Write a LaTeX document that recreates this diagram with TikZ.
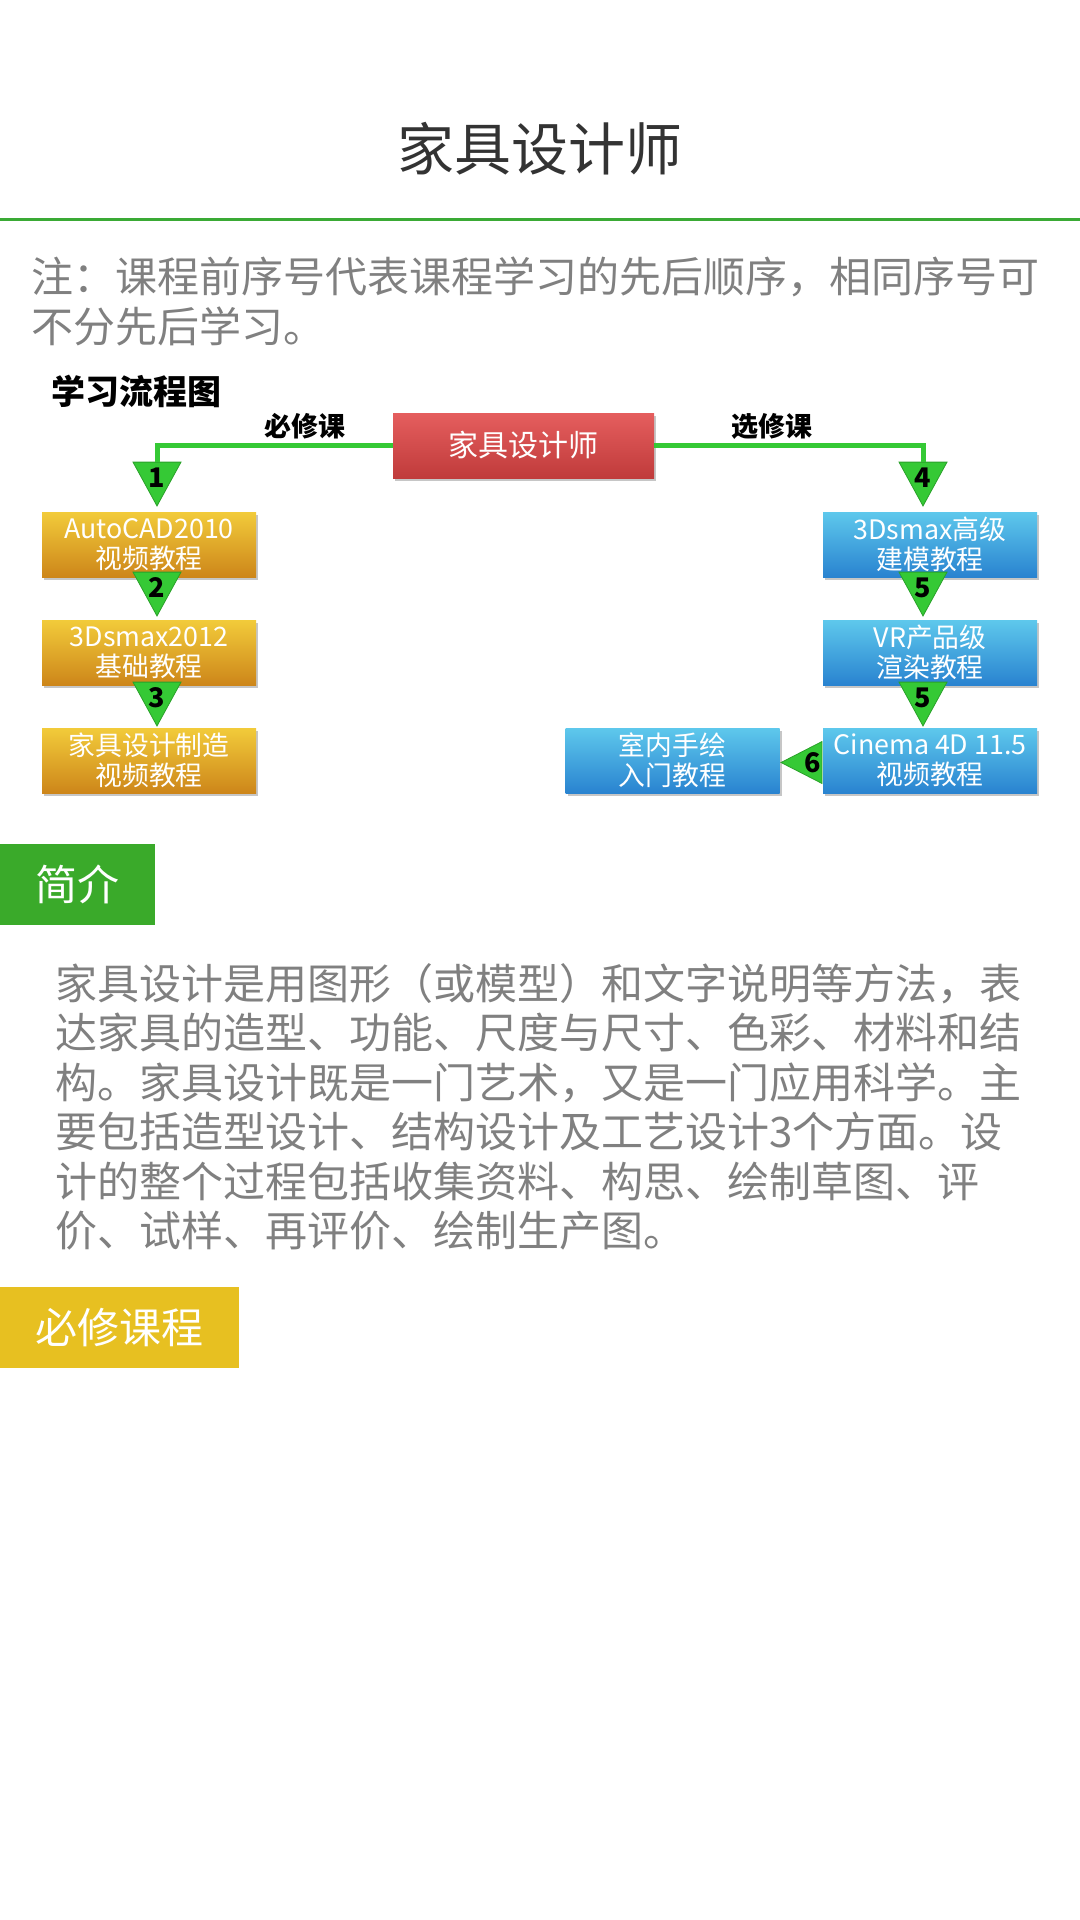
\documentclass[tikz,border=0pt]{standalone}
\usepackage{fontspec}
\setmainfont{Noto Sans CJK SC}
\usetikzlibrary{shapes.geometric,shadows}
\definecolor{titlegray}{HTML}{333333}
\definecolor{notegray}{HTML}{808080}
\definecolor{bargreen}{HTML}{3AAA35}
\definecolor{secgreen}{HTML}{3AAA2A}
\definecolor{secyellow}{HTML}{E7C021}
\definecolor{linkgreen}{HTML}{35C935}
\definecolor{reqtop}{HTML}{F2CB3A}
\definecolor{reqbot}{HTML}{CD861A}
\definecolor{opttop}{HTML}{5EC8EC}
\definecolor{optbot}{HTML}{2983D0}
\definecolor{maintop}{HTML}{E55E5E}
\definecolor{mainbot}{HTML}{C03B3B}
\tikzset{
  course/.style={rectangle,minimum width=107pt,minimum height=32.5pt,inner sep=0pt,align=center,
    text=white,font=\fontsize{13.4}{15}\selectfont,
    drop shadow={shadow xshift=1pt,shadow yshift=-1.5pt,opacity=.45}},
  reqbox/.style={course,top color=reqtop,bottom color=reqbot},
  optbox/.style={course,top color=opttop,bottom color=optbot},
  stepmark/.style={isosceles triangle,isosceles triangle stretches,inner sep=0pt,
    fill=linkgreen,draw=linkgreen!80!black,thin,font=\bfseries\fontsize{13.5}{13.5}\selectfont},
  downmark/.style={stepmark,shape border rotate=270,minimum width=24pt,minimum height=18.5pt,
    anchor=apex,text height=12pt,text depth=0pt},
  link/.style={linkgreen,line width=2.5pt},
  secbox/.style={rectangle,inner sep=0pt,minimum height=40.5pt,anchor=north west,text=white,
    font=\fontsize{21}{21}\selectfont},
  textblock/.style={anchor=north west,inner sep=0pt,align=left,text=notegray}
}
\begin{document}
\begin{tikzpicture}[x=0.5pt,y=-0.5pt]
\useasboundingbox (0,0) rectangle (1080,1920);
% header
\node[font=\fontsize{28.5}{28.5}\selectfont,text=titlegray] (title) at (540,149) {家具设计师};
\draw[bargreen,line width=1.5pt] (0,220) -- (1080,220);
\node[textblock,font=\fontsize{21}{25}\selectfont] (note) at (31,256)
  {注：课程前序号代表课程学习的先后顺序，相同序号可\\不分先后学习。};
% flow chart
\node[font=\bfseries\fontsize{17}{17}\selectfont] (chart) at (136,391) {学习流程图};
\node[rectangle,minimum width=130.5pt,minimum height=32.5pt,top color=maintop,bottom color=mainbot,
  text=white,font=\fontsize{15}{15}\selectfont,
  drop shadow={shadow xshift=1pt,shadow yshift=-1.5pt,opacity=.45}] (main) at (523.5,445.5) {家具设计师};
\node[font=\bfseries\fontsize{13.5}{13.5}\selectfont] (must) at (305,426.5) {必修课};
\node[font=\bfseries\fontsize{13.5}{13.5}\selectfont] (free) at (772,426.5) {选修课};
\node[reqbox] (cad) at (149,544.5) {AutoCAD2010\\视频教程};
\node[reqbox] (max) at (149,652.5) {3Dsmax2012\\基础教程};
\node[reqbox] (make) at (149,760.5) {家具设计制造\\视频教程};
\node[optbox] (model) at (930,544.5) {3Dsmax高级\\建模教程};
\node[optbox] (vray) at (930,652.5) {VR产品级\\渲染教程};
\node[optbox] (c4d) at (930,760.5) {Cinema 4D 11.5\\视频教程};
\node[optbox] (hand) at (672.5,760.5) {室内手绘\\入门教程};
\node[downmark] (s1) at (157,507) {1};
\node[downmark] (s2) at (157,617) {2};
\node[downmark] (s3) at (157,727) {3};
\node[downmark] (s4) at (923,507) {4};
\node[downmark] (s5) at (923,617) {5};
\node[downmark] (s6) at (923,727) {5};
\node[stepmark,shape border rotate=180,minimum width=21pt,minimum height=20.5pt,anchor=apex] (s7) at (780,762.5) {6};
\draw[link] (main.west) -| (s1.north);
\draw[link] (main.east) -| (s4.north);
% intro
\node[secbox,fill=secgreen,minimum width=77.5pt] (introhead) at (0,844) {简介};
\node[textblock,font=\fontsize{21}{24.75}\selectfont] (intro) at (55,963)
  {家具设计是用图形（或模型）和文字说明等方法，表\\达家具的造型、功能、尺度与尺寸、色彩、材料和结\\构。家具设计既是一门艺术，又是一门应用科学。主\\要包括造型设计、结构设计及工艺设计3个方面。设\\计的整个过程包括收集资料、构思、绘制草图、评\\价、试样、再评价、绘制生产图。};
\node[secbox,fill=secyellow,minimum width=119.5pt] (coursehead) at (0,1287) {必修课程};
\end{tikzpicture}
\end{document}
